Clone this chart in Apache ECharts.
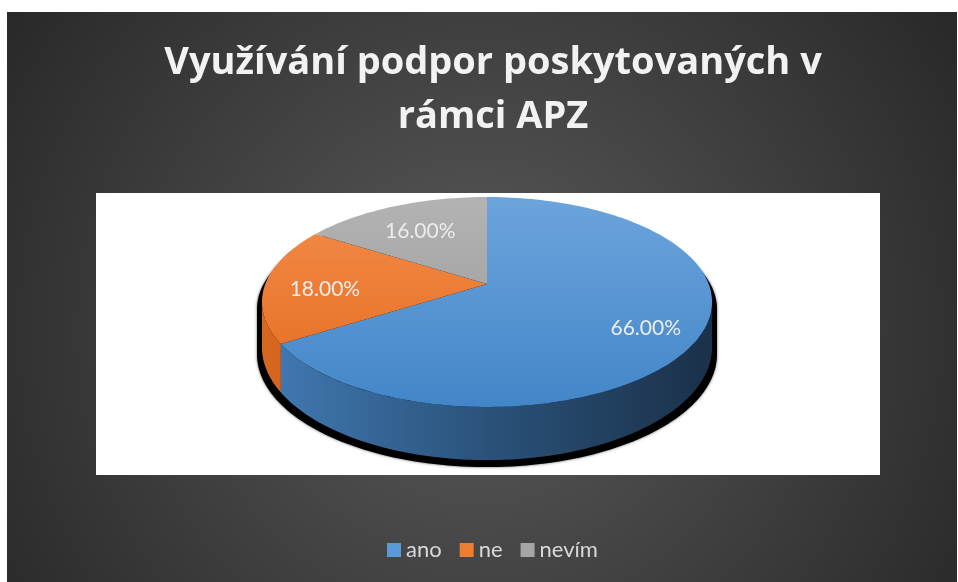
<!DOCTYPE html>
<html>
<head>
<meta charset="utf-8">
<script src="https://cdn.jsdelivr.net/npm/echarts@6/dist/echarts.min.js"></script>
<style>
  html, body { margin: 0; background: #fff; }
  #chart { width: 958px; height: 582px; }
</style>
</head>
<body>
<div id="chart"></div>
<script>
const categories = ['ano', 'ne', 'nevím']
const shares = [66, 18, 16]
const titleText = 'Využívání podpor poskytovaných v\nrámci APZ'

// colours per slice: top face (top -> bottom), side wall (left -> right)
const topColors = [['#6ca4dc', '#4386c8'], ['#f28d4c', '#e56a1c'], ['#b3b3b3', '#979797']]
const sideColors = [['#417ab4', '#2a5279', '#1b3049'], ['#d8671f', '#b0520f', '#8a3f0a'], ['#8a8a8a', '#666666', '#444444']]
const legendColors = ['#5b9bd5', '#ed7d31', '#a5a5a5']

// pie geometry, a tilted disc seen with some perspective
const CX = 487
const CY = 284
const RA = 221.7
const RB = 101.9
const P = 0.1714
const DEPTH = 44
const PHI_L = Math.acos(-P) * 180 / Math.PI
const PHI_R = 360 - PHI_L

const total = shares.reduce((a, b) => a + b, 0)

// phi: degrees clockwise from the back edge of the disc
function proj(phi, r, down) {
  const t = phi * Math.PI / 180
  const u = Math.sin(t)
  const w = Math.cos(t)
  const d = 1 + P * w
  return [CX + RA * u * r / d, CY - RB * w * r / d + (down ? DEPTH / d : 0)]
}

function arc(a0, a1, down) {
  const pts = []
  const n = Math.max(2, Math.ceil(Math.abs(a1 - a0) / 1.5))
  for (let i = 0; i <= n; i += 1) {
    pts.push(proj(a0 + (a1 - a0) * i / n, 1, down))
  }
  return pts
}

function renderSlice(params, api) {
  const idx = params.seriesIndex
  let before = 0
  for (let i = 0; i < idx; i += 1) before += shares[i]
  const value = api.value(0)
  const phi0 = before / total * 360
  const phi1 = (before + value) / total * 360
  const children = []

  if (idx === 0) {
    // dark shadow below the whole disc
    const outline = arc(PHI_R, 360 + PHI_L, false).concat(arc(PHI_L, PHI_R, true))
    children.push({
      type: 'polygon',
      z2: 0,
      shape: { points: outline.map(p => [CX + (p[0] - CX) * 1.022, p[1] + 7]) },
      style: { fill: '#000', shadowBlur: 3, shadowColor: 'rgba(0,0,0,0.6)' },
    })
  }

  // front side wall
  const s0 = Math.max(phi0, PHI_L)
  const s1 = Math.min(phi1, PHI_R)
  if (s0 < s1) {
    const sc = sideColors[idx]
    children.push({
      type: 'polygon',
      z2: 1,
      shape: { points: arc(s0, s1, false).concat(arc(s1, s0, true)) },
      style: {
        fill: {
          type: 'linear', global: true, x: 263, y: 0, x2: 713, y2: 0,
          colorStops: [
            { offset: 0, color: sc[0] },
            { offset: 0.5, color: sc[1] },
            { offset: 1, color: sc[2] },
          ],
        },
      },
    })
  }

  // top face
  const tc = topColors[idx]
  children.push({
    type: 'polygon',
    z2: 2,
    shape: { points: [[CX, CY]].concat(arc(phi0, phi1, false)) },
    style: {
      fill: {
        type: 'linear', global: true, x: 0, y: 197, x2: 0, y2: 407,
        colorStops: [
          { offset: 0, color: tc[0] },
          { offset: 1, color: tc[1] },
        ],
      },
    },
  })

  // percentage label
  const lp = proj((phi0 + phi1) / 2, 0.74, false)
  children.push({
    type: 'text',
    z2: 3,
    x: lp[0] + 2,
    y: lp[1] + 5,
    style: {
      text: (value / total * 100).toFixed(2) + '%',
      fill: '#ececec',
      font: '21px Lato',
      align: 'center',
      verticalAlign: 'middle',
    },
  })

  return { type: 'group', children }
}

const chart = echarts.init(document.getElementById('chart'))

const option = {
  animation: false,
  backgroundColor: '#ffffff',
  title: {
    text: titleText,
    left: 488,
    top: 31,
    textAlign: 'center',
    textStyle: {
      color: '#f2f2f2',
      fontFamily: 'Open Sans',
      fontWeight: 'bold',
      fontSize: 38,
      lineHeight: 54,
    },
  },
  legend: {
    data: categories,
    left: 382,
    top: 534,
    icon: 'rect',
    itemWidth: 14,
    itemHeight: 14,
    itemGap: 18,
    textStyle: {
      color: '#d9d9d9',
      fontFamily: 'Lato',
      fontSize: 22,
    },
  },
  graphic: {
    elements: [
      {
        type: 'rect',
        z: -10,
        shape: { x: 7, y: 12, width: 950, height: 570 },
        style: {
          fill: {
            type: 'radial', global: true, x: 480, y: 330, r: 600,
            colorStops: [
              { offset: 0, color: '#5a5a5a' },
              { offset: 1, color: '#262626' },
            ],
          },
        },
      },
      {
        type: 'rect',
        z: -9,
        shape: { x: 96, y: 193, width: 784, height: 282 },
        style: { fill: '#ffffff' },
      },
    ],
  },
  series: categories.map((name, i) => ({
    type: 'custom',
    name,
    coordinateSystem: 'none',
    itemStyle: { color: legendColors[i] },
    renderItem: renderSlice,
    data: [[shares[i]]],
  })),
}

chart.setOption(option)
</script>
</body>
</html>
